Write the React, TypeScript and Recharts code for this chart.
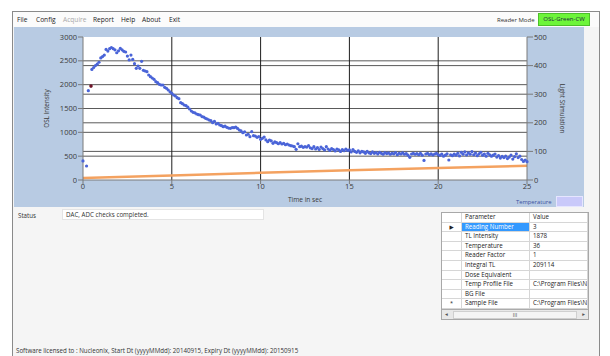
import React from 'react';
import {
  ComposedChart,
  Scatter,
  Line,
  XAxis,
  YAxis,
  CartesianGrid,
  ReferenceLine
} from 'recharts';

// OSL readings, one every 0.1 s from 0 to 25 s (null = no point visible)
const OSL_STEP = 0.1;
const OSL_VALUES: (number | null)[] = [
  400, null, 294, 1875, null, 2320, 2360, 2400, 2430, 2470,
  2560, 2590, 2620, 2740, 2705, 2755, 2780, 2755, 2730, 2670,
  2710, 2760, 2730, 2700, 2685, 2600, 2520, 2620, 2530, 2440,
  2343, 2392, 2343, 2490, 2301, 2287, 2273, 2203, 2168, 2140,
  2112, 2063, 2042, 2007, 1993, 1993, 1945, 1924, 1888, 1850,
  1819, 1783, 1762, 1727, 1706, 1622, 1601, 1573, 1559, 1531,
  1490, 1448, 1420, 1410, 1385, 1370, 1364, 1330, 1320, 1294,
  1280, 1259, 1245, 1203, 1230, 1175, 1190, 1154, 1140, 1119,
  1130, 1105, 1090, 1084, 1100, 1098, 1110, 1082, 1049, 1030,
  993, 1010, 944, 960, 909, 1014, 930, 923, 895, 910,
  853, 874, 900, 840, 804, 839, 820, 769, 800, 783,
  760, 783, 755, 770, 740, 755, 734, 720, 713, 700,
  643, 760, 699, 710, 685, 700, 690, 720, 675, 660,
  700, 650, 680, 640, 690, 660, 630, 700, 650, 620,
  660, 640, 610, 650, 630, 600, 640, 615, 650, 620,
  630, 590, 640, 600, 580, 610, 570, 600, 590, 560,
  600, 570, 555, 590, 560, 575, 545, 580, 560, 540,
  575, 555, 570, 540, 560, 550, 575, 530, 560, 545,
  570, 540, 555, 520, 475, 545, 560, 540, 555, 530,
  560, 520, 410, 545, 560, 530, 550, 525, 545, 560,
  530, 515, 545, 500, 520, 550, 420, 530, 510, 545,
  520, 560, 505, 580, 540, 590, 525, 570, 540, 595,
  530, 565, 510, 550, 580, 520, 545, 500, 560, 530,
  500, 520, 545, 480, 510, 460, 495, 470, 500, 450,
  480, 520, 440, 490, 550, 470, 500, 430, 390, 420,
  385
];

// highlighted (selected) reading
const MARKER_TIMES = [0.45];
const MARKER_VALUES = [1970];

// temperature trace, right axis
const TEMP_TIMES = [0, 5, 10, 15, 20, 25];
const TEMP_VALUES = [7, 16, 25, 34, 42, 50];

const X_TICKS = [0, 5, 10, 15, 20, 25];
const LEFT_TICKS = [0, 500, 1000, 1500, 2000, 2500, 3000];
const RIGHT_TICKS = [0, 100, 200, 300, 400, 500];

const MENU_ITEMS = ['File', 'Config', 'Acquire', 'Report', 'Help', 'About', 'Exit'];
const MENU_X = [17, 36, 63, 93, 121, 142, 169];

const PARAM_NAMES = [
  'Reading Number', 'TL Intensity', 'Temperature', 'Reader Factor', 'Integral TL',
  'Dose Equivalent', 'Temp Profile File', 'BG File', 'Sample File'
];
const PARAM_VALUES = ['3', '1878', '36', '1', '209114', '', 'C:\\Program Files\\N', '', 'C:\\Program Files\\N'];

const oslData = OSL_VALUES.map((v, i) => ({ t: Math.round(i * OSL_STEP * 10) / 10, v }))
  .filter(d => d.v !== null);
const markerData = MARKER_TIMES.map((t, i) => ({ t, v: MARKER_VALUES[i] }));
const tempData = TEMP_TIMES.map((t, i) => ({ t, temp: TEMP_VALUES[i] }));

const FONT = "'Open Sans', 'DejaVu Sans', sans-serif";

const BlueDot = (props: any) => {
  const { cx, cy } = props;
  if (cx == null || cy == null) return null;
  return <circle cx={cx} cy={cy} r={1.6} fill="#4a64d8" />;
};

const RedDot = (props: any) => {
  const { cx, cy } = props;
  if (cx == null || cy == null) return null;
  return <circle cx={cx} cy={cy} r={1.8} fill="#6e1428" />;
};

const tickStyle = { fill: '#3a3a3a', fontSize: 7.5, fontFamily: FONT };

const ROW_H = 9.6;
const COL_X = [0, 20, 88];
const COL_W = [20, 68, 58];

const GridRow = ({ top, cells, selected }: { top: number; cells: string[]; selected?: boolean }) => (
  <>
    {cells.map((c, j) => (
      <div
        key={j}
        style={{
          position: 'absolute',
          left: COL_X[j],
          top,
          width: COL_W[j],
          height: ROW_H,
          boxSizing: 'border-box',
          borderRight: '1px solid #d6d6d6',
          borderBottom: '1px solid #d6d6d6',
          background: selected && j === 1 ? '#3399ff' : '#ffffff',
          color: selected && j === 1 ? '#ffffff' : '#222',
          fontSize: j === 0 ? 5.5 : 6.2,
          lineHeight: `${ROW_H - 1}px`,
          paddingLeft: j === 0 ? 0 : 3,
          textAlign: j === 0 ? 'center' : 'left',
          whiteSpace: 'nowrap',
          overflow: 'hidden'
        }}
      >
        {c}
      </div>
    ))}
  </>
);

export default function App() {
  return (
    <div style={{ position: 'relative', width: 610, height: 356, background: '#ffffff', overflow: 'hidden', fontFamily: FONT }}>
      <style>{'body{margin:0}'}</style>

      {/* window frame */}
      <div style={{ position: 'absolute', left: 12, top: 11, width: 586, height: 350, border: '1px solid #8a8a8a', background: '#f5f5f5' }} />

      {/* menu bar */}
      <div style={{ position: 'absolute', left: 13, top: 12, width: 586, height: 15, background: '#fbfbfb' }} />
      {MENU_ITEMS.map((m, i) => (
        <div key={m} style={{ position: 'absolute', left: MENU_X[i], top: 15, fontSize: 6.6, color: m === 'Acquire' ? '#a8a8a8' : '#222' }}>{m}</div>
      ))}
      <div style={{ position: 'absolute', left: 497, top: 16, fontSize: 6, color: '#333' }}>Reader Mode</div>
      <div style={{ position: 'absolute', left: 538, top: 13, width: 50, height: 11, background: '#6df53a', border: '1px solid #4cc02a', fontSize: 6, color: '#1d2a40', textAlign: 'center', lineHeight: '11px' }}>OSL-Green-CW</div>

      {/* chart panel */}
      <div style={{ position: 'absolute', left: 14, top: 27, width: 570, height: 180, background: '#b8cbe3' }}>
        <ComposedChart width={570} height={180} margin={{ top: 10, right: 0, bottom: 0, left: 0 }}>
          <CartesianGrid fill="#ffffff" horizontal={false} vertical={false} />
          <XAxis
            type="number"
            dataKey="t"
            domain={[0, 25]}
            ticks={X_TICKS}
            height={27}
            tickSize={4}
            tickMargin={0}
            stroke="#7a7a7a"
            tick={tickStyle}
            label={{ value: 'Time in sec', position: 'insideBottom', offset: 5, fill: '#3a3a3a', fontSize: 6.6, fontFamily: FONT }}
          />
          <YAxis
            yAxisId="left"
            dataKey="v"
            type="number"
            domain={[0, 3000]}
            ticks={LEFT_TICKS}
            width={69}
            tickSize={5}
            tickMargin={1}
            stroke="#7a7a7a"
            tick={tickStyle}
            label={{ value: 'OSL Intensity', angle: -90, position: 'center', dx: -2, fill: '#3a3a3a', fontSize: 6.3, fontFamily: FONT }}
          />
          <YAxis
            yAxisId="right"
            orientation="right"
            type="number"
            domain={[0, 500]}
            ticks={RIGHT_TICKS}
            width={57}
            tickSize={6}
            tickMargin={1}
            stroke="#7a7a7a"
            tick={tickStyle}
            label={{ value: 'Light Stimulation', angle: 90, position: 'center', dx: 7, fill: '#3a3a3a', fontSize: 6.3, fontFamily: FONT }}
          />

          {/* gridlines from both value axes */}
          {LEFT_TICKS.filter(v => v > 0 && v < 3000).map(v => (
            <ReferenceLine key={`l-${v}`} yAxisId="left" y={v} stroke="#5a5a5a" strokeWidth={1} />
          ))}
          {RIGHT_TICKS.filter(v => v > 0 && v < 500).map(v => (
            <ReferenceLine key={`r-${v}`} yAxisId="right" y={v} stroke="#5a5a5a" strokeWidth={1} />
          ))}
          {X_TICKS.filter(v => v > 0 && v < 25).map(v => (
            <ReferenceLine key={`x-${v}`} yAxisId="left" x={v} stroke="#1e1e1e" strokeWidth={1} />
          ))}

          <Line
            data={tempData}
            yAxisId="right"
            dataKey="temp"
            stroke="#f4a260"
            strokeWidth={2.5}
            dot={false}
            isAnimationActive={false}
          />
          <Scatter data={oslData} yAxisId="left" dataKey="v" shape={<BlueDot />} isAnimationActive={false} />
          <Scatter data={markerData} yAxisId="left" dataKey="v" shape={<RedDot />} isAnimationActive={false} />
        </ComposedChart>

        {/* legend */}
        <div style={{ position: 'absolute', left: 502, top: 171, fontSize: 5.8, color: '#3a50a0' }}>Temperature</div>
        <div style={{ position: 'absolute', left: 542, top: 169, width: 25, height: 9, background: '#c9c9fa', border: '1px solid #e6e6ff' }} />
      </div>

      {/* status */}
      <div style={{ position: 'absolute', left: 18, top: 211, fontSize: 6.2, color: '#333' }}>Status</div>
      <div style={{ position: 'absolute', left: 62, top: 209, width: 197, height: 9, background: '#ffffff', border: '1px solid #e4e4e4', fontSize: 6.2, color: '#333', lineHeight: '9px', paddingLeft: 3, boxSizing: 'content-box' }}>DAC, ADC checks completed.</div>

      {/* parameter grid */}
      <div style={{ position: 'absolute', left: 441, top: 212, width: 146, height: 106, border: '1px solid #a8a8a8', background: '#ababab', overflow: 'hidden' }}>
        <GridRow top={0} cells={['', 'Parameter', 'Value']} />
        {PARAM_NAMES.map((p, i) => (
          <GridRow
            key={p}
            top={ROW_H * (i + 1)}
            cells={[i === 0 ? '\u25B6' : i === PARAM_NAMES.length - 1 ? '*' : '', p, PARAM_VALUES[i]]}
            selected={i === 0}
          />
        ))}
        <div style={{ position: 'absolute', left: 0, bottom: 0, width: 146, height: 9, background: '#e8e8e8', fontSize: 5.5, color: '#555' }}>
          <span style={{ position: 'absolute', left: 3, top: 0 }}>{'\u25C2'}</span>
          <div style={{ position: 'absolute', left: 11, top: 1, width: 122, height: 6, background: '#f4f4f4', border: '1px solid #cfcfcf', textAlign: 'center', lineHeight: '6px' }}>III</div>
          <span style={{ position: 'absolute', right: 3, top: 0 }}>{'\u25B8'}</span>
        </div>
      </div>

      {/* footer */}
      <div style={{ position: 'absolute', left: 16, top: 346, fontSize: 6.2, color: '#333', whiteSpace: 'nowrap' }}>
        Software licensed to : Nucleonix, Start Dt (yyyyMMdd): 20140915, Expiry Dt (yyyyMMdd): 20150915
      </div>
    </div>
  );
}
